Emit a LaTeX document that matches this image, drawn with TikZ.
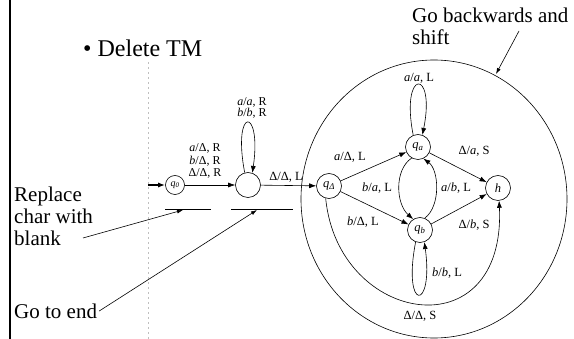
\documentclass[tikz,border=0pt]{standalone}
\usepackage{fontspec}
\setmainfont{Liberation Serif}
\usetikzlibrary{arrows.meta}
\begin{document}
\begin{tikzpicture}[x=1pt,y=-1pt,
  st/.style={draw,circle,minimum size=25pt,inner sep=0pt,line width=0.6pt,font=\fontsize{12.5}{13}\selectfont\itshape},
  lbl/.style={font=\fontsize{12.5}{12.5}\selectfont,inner sep=0pt,align=center},
  big/.style={font=\fontsize{21}{22}\selectfont,align=left,inner sep=0pt},
  tr/.style={-{Latex[length=7pt,width=5pt]},line width=0.6pt},
  ann/.style={-{Latex[length=6pt,width=4pt]},line width=0.6pt}]
\useasboundingbox (0,0) rectangle (574,339);
% left border and scan edge
\draw[line width=2pt] (10,0) -- (10,339);
\draw[gray!50,dashed,dash pattern=on 2pt off 3pt,line width=0.7pt] (148,62) -- (148,339);
% title
\node[anchor=west,font=\fontsize{24}{26}\selectfont,inner sep=0pt] (title) at (83,48) {\textbullet\ Delete TM};
% left machine
\coordinate (start) at (148,185);
\node[st,minimum size=19pt,font=\fontsize{10}{11}\selectfont\itshape] (q0) at (175,185) {q\textsubscript{0}};
\node[st] (m) at (248,185) {};
\draw[tr,line width=1.3pt] (start) -- (q0);
\draw[tr] (q0) -- (m);
\node[lbl,font=\fontsize{12}{12.5}\selectfont] (l1) at (205,161) {\textit{a}/Δ, R\\\textit{b}/Δ, R\\Δ/Δ, R};
\draw[tr] (m.105) .. controls (232,106) and (262,106) .. (m.70);
\node[lbl,font=\fontsize{12}{11.5}\selectfont] (l2) at (252,108) {\textit{a}/\textit{a}, R\\\textit{b}/\textit{b}, R};
% right machine
\node[st] (qd) at (329,186) {q\textsubscript{Δ}};
\node[st] (qa) at (418,147) {q\textsubscript{a}};
\node[st] (qb) at (420,230) {q\textsubscript{b}};
\node[st] (h) at (498,188) {h};
\draw[tr] (m) -- (qd);
\node[lbl] (l3) at (286,177) {Δ/Δ, L};
\draw[tr] (qd) -- (qa);
\node[lbl] (l4) at (350,157) {\textit{a}/Δ, L};
\draw[tr] (qd) -- (qb);
\node[lbl] (l5) at (363,222) {\textit{b}/Δ, L};
\draw[tr] (qa) -- (h);
\node[lbl] (l6) at (474,151) {Δ/\textit{a}, S};
\draw[tr] (qb) -- (h);
\node[lbl] (l7) at (474,225) {Δ/\textit{b}, S};
\draw[tr] (qa.112) .. controls (400,68) and (436,68) .. (qa.70);
\node[lbl] (l8) at (419,78) {\textit{a}/\textit{a}, L};
\draw[tr] (qb.250) .. controls (402,312) and (434,312) .. (qb.290);
\node[lbl] (l9) at (447,273) {\textit{b}/\textit{b}, L};
\draw[tr] (qa.240) .. controls (394,170) and (396,204) .. (qb.122);
\node[lbl] (l10) at (377,188) {\textit{b}/\textit{a}, L};
\draw[tr] (qb.68) .. controls (441,206) and (439,170) .. (qa.295);
\node[lbl] (l11) at (456,188) {\textit{a}/\textit{b}, L};
\draw[tr] (qd.255) .. controls (338,325) and (506,352) .. (h.275);
\node[lbl] (l12) at (420,316) {Δ/Δ, S};
\draw[line width=0.6pt] (434,199) ellipse [x radius=133, y radius=139];
% annotations
\node[big,anchor=north west] (t1) at (412,8) {Go backwards and\\shift};
\coordinate (e1) at (496,74);
\draw[ann] (519,31) -- (e1);
\node[big,anchor=north west] (t2) at (14,187) {Replace\\char with\\blank};
\node[big,anchor=west] (t3) at (14,311) {Go to end};
\coordinate (u1a) at (165,209); \coordinate (u1b) at (211,209);
\coordinate (u2a) at (231,209); \coordinate (u2b) at (293,209);
\draw[line width=0.6pt] (u1a) -- (u1b);
\draw[line width=0.6pt] (u2a) -- (u2b);
\coordinate (s1) at (83,238);
\draw[ann] (s1) -- (183,210);
\draw[ann] ([xshift=2pt]t3.east) -- (257,210);
\end{tikzpicture}
\end{document}
